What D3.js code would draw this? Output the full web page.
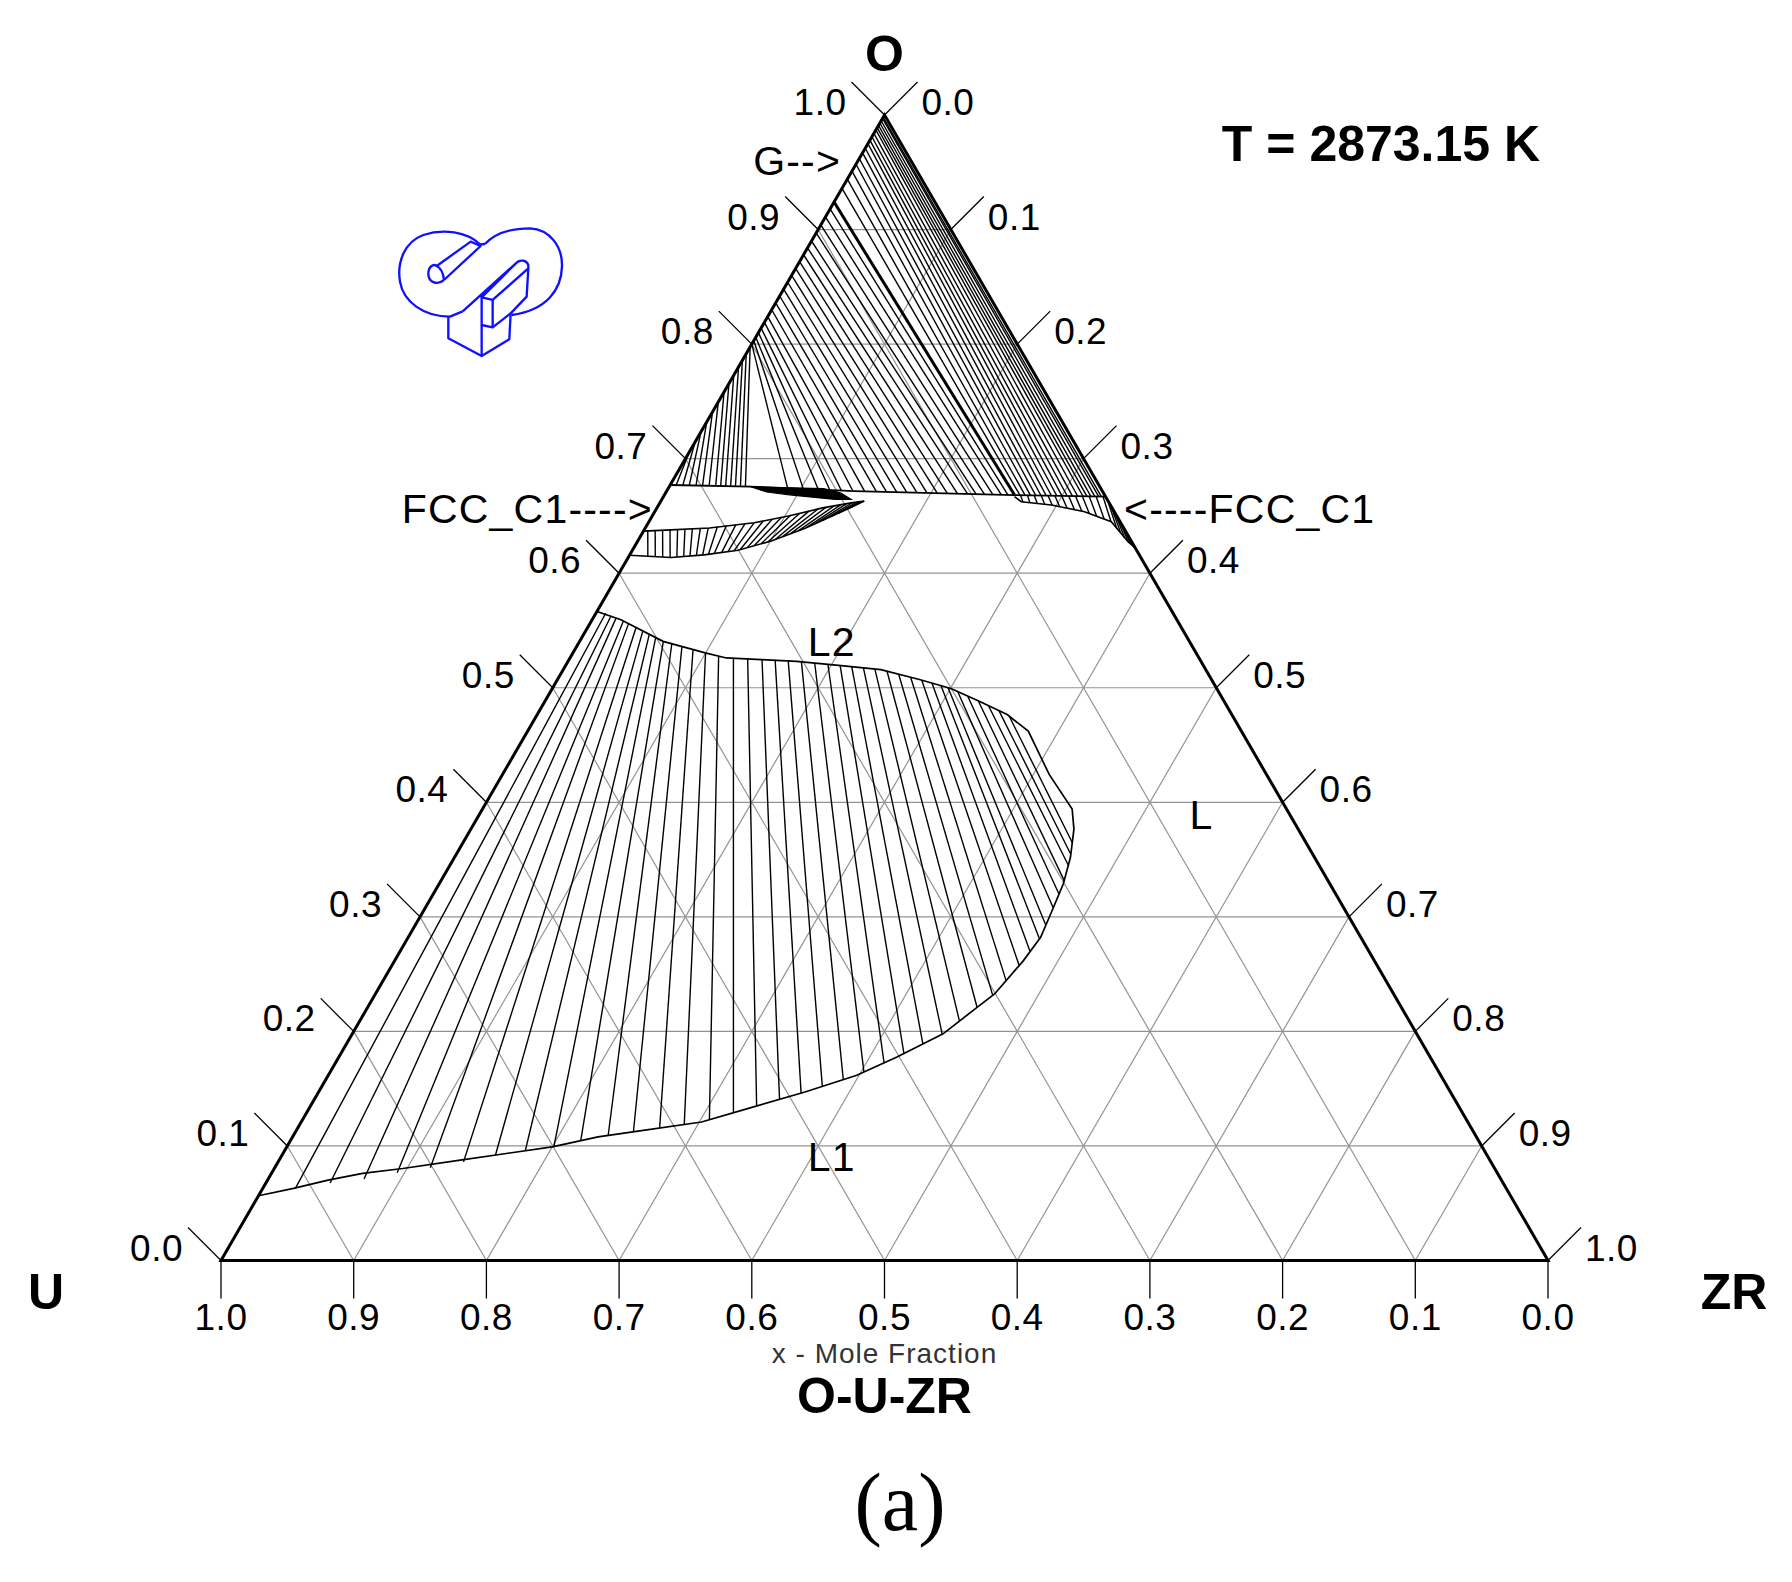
<!DOCTYPE html>
<html>
<head>
<meta charset="utf-8">
<script src="https://cdn.jsdelivr.net/npm/d3@7"></script>
<style>
  body { margin: 0; background: #fff; }
  svg text { font-family: "Liberation Sans", Arial, sans-serif; }
</style>
</head>
<body>
<div id="chart"></div>
<script>
// ---- data (mole fractions: [xZr, xO]) ----
var tickValues = [0, 0.1, 0.2, 0.3, 0.4, 0.5, 0.6, 0.7, 0.8, 0.9, 1.0];
var gridValues = [0.1, 0.2, 0.3, 0.4, 0.5, 0.6, 0.7, 0.8, 0.9];

// L2 / L1 miscibility gap outline (upper L2 branch, round the critical point, lower L1 branch)
var gapBoundary = [
  [0, 0.5666], [0.0217, 0.5594], [0.0629, 0.5405], [0.0997, 0.5304], [0.1178, 0.526],
  [0.1449, 0.5246], [0.1722, 0.5231], [0.2056, 0.5196], [0.2393, 0.5158], [0.2727, 0.5072],
  [0.3004, 0.4993], [0.3272, 0.4883], [0.3541, 0.4766], [0.3773, 0.4621], [0.4119, 0.4244],
  [0.4443, 0.3942], [0.4545, 0.3765], [0.4642, 0.3518], [0.4704, 0.3286], [0.4736, 0.3053],
  [0.4766, 0.2821], [0.4738, 0.2618], [0.4666, 0.2327], [0.4594, 0.2212], [0.4452, 0.1979],
  [0.4206, 0.1776], [0.3983, 0.1617], [0.3665, 0.1471], [0.3305, 0.1326], [0.3017, 0.1209],
  [0.2542, 0.1123], [0.2302, 0.1079], [0.2, 0.0992], [0.1683, 0.0934], [0.1365, 0.0876],
  [0.0968, 0.0803], [0.0687, 0.076], [0.0456, 0.0702], [0.0232, 0.0629], [0, 0.0565]
];

// L2 - L1 tie lines: [xZr(L2), xO(L2), xZr(L1), xO(L1)]
var gapTies = [
  [0.0074, 0.565, 0.0246, 0.0627], [0.0126, 0.5628, 0.0484, 0.0677], [0.0173, 0.5612, 0.0722, 0.0712],
  [0.0241, 0.5583, 0.0945, 0.0766], [0.0291, 0.5562, 0.1173, 0.0809], [0.0365, 0.5526, 0.1397, 0.0861],
  [0.0431, 0.5496, 0.1608, 0.0921], [0.0494, 0.5468, 0.1814, 0.0958], [0.0556, 0.544, 0.2011, 0.0995],
  [0.0631, 0.5405, 0.2188, 0.1045], [0.0705, 0.5384, 0.2372, 0.1091], [0.0794, 0.5359, 0.2546, 0.1124],
  [0.0891, 0.5332, 0.2727, 0.1157], [0.1, 0.5303, 0.2897, 0.1188], [0.1115, 0.527, 0.3066, 0.1229],
  [0.1233, 0.5257, 0.3216, 0.1291], [0.1344, 0.525, 0.3362, 0.1349], [0.1454, 0.5246, 0.3506, 0.1406],
  [0.1556, 0.524, 0.3641, 0.1461], [0.1657, 0.5235, 0.3772, 0.1519], [0.1761, 0.5226, 0.39, 0.1579],
  [0.1866, 0.5216, 0.4023, 0.1644], [0.1971, 0.5205, 0.4135, 0.1724], [0.2068, 0.5195, 0.4243, 0.1807],
  [0.2161, 0.5184, 0.4344, 0.1891], [0.2254, 0.5174, 0.4447, 0.1976], [0.2346, 0.5163, 0.452, 0.209],
  [0.2447, 0.5144, 0.4592, 0.2211], [0.2548, 0.5118, 0.4655, 0.2319], [0.2651, 0.5092, 0.4698, 0.2439],
  [0.2748, 0.5066, 0.4733, 0.2568], [0.2837, 0.5041, 0.4748, 0.2698], [0.2917, 0.5018, 0.4765, 0.2807],
  [0.2979, 0.5, 0.4753, 0.2926], [0.3068, 0.4967, 0.473, 0.3081], [0.3168, 0.4922, 0.4719, 0.3195],
  [0.3263, 0.4887, 0.4702, 0.331], [0.3362, 0.4843, 0.4666, 0.3444], [0.346, 0.4803, 0.4628, 0.3549],
  [0.3563, 0.4753, 0.4596, 0.3643]
];

// FCC_C1 boundary near xO = 2/3
var fccLine = [[0, 0.677], [0.0614, 0.6755], [0.1414, 0.6717], [0.2639, 0.6682], [0.3332, 0.6668]];

// G + FCC tie lines, left part (gas side on the O-U edge)
var gasLeftTies = [
  [0, 0.800, 0.090, 0.6741], [0, 0.803, 0.102, 0.6736], [0, 0.806, 0.1136, 0.6730],
  [0, 0.810, 0.1225, 0.6726], [0, 0.814, 0.1314, 0.6722], [0, 0.819, 0.1403, 0.6718],
  [0, 0.824, 0.1493, 0.6715], [0, 0.830, 0.1583, 0.6712], [0, 0.836, 0.166, 0.6710],
  [0, 0.842, 0.1738, 0.6708], [0, 0.848, 0.1815, 0.6706], [0, 0.854, 0.1893, 0.6703],
  [0, 0.860, 0.197, 0.6701], [0, 0.866, 0.2048, 0.6699], [0, 0.872, 0.2125, 0.6697],
  [0, 0.878, 0.2203, 0.6694], [0, 0.884, 0.228, 0.6692], [0, 0.890, 0.2345, 0.6690],
  [0, 0.897, 0.2409, 0.6689], [0, 0.904, 0.2473, 0.6687], [0, 0.911, 0.2537, 0.6685],
  [0, 0.918, 0.2588, 0.6683]
];
var gasThickTie = [0, 0.924, 0.2639, 0.6682];

// G + FCC tie lines, right part
var gasRightTies = [
  [0, 0.936, 0.268, 0.6681], [0, 0.944, 0.272, 0.6680], [0, 0.951, 0.276, 0.6680],
  [0, 0.957, 0.280, 0.6679], [0, 0.962, 0.284, 0.6678], [0, 0.967, 0.288, 0.6677],
  [0, 0.971, 0.292, 0.6676], [0, 0.975, 0.296, 0.6676], [0, 0.978, 0.300, 0.6675],
  [0, 0.981, 0.304, 0.6674], [0, 0.984, 0.308, 0.6673], [0, 0.987, 0.312, 0.6672],
  [0, 0.989, 0.316, 0.6672], [0, 0.991, 0.319, 0.6671], [0, 0.993, 0.322, 0.6670],
  [0, 0.995, 0.325, 0.6670], [0, 0.997, 0.328, 0.6669], [0, 0.998, 0.330, 0.6669]
];

// fan of tie lines below xO = 0.8 on the O-U edge
var fanTies = [
  [0, 0.706, 0.0046, 0.6769], [0, 0.7147, 0.0096, 0.6768], [0, 0.7234, 0.0146, 0.6766],
  [0, 0.7321, 0.0197, 0.6765], [0, 0.7408, 0.0247, 0.6764], [0, 0.7495, 0.0297, 0.6763],
  [0, 0.7582, 0.0347, 0.6762], [0, 0.7655, 0.0385, 0.6761], [0, 0.7728, 0.0423, 0.6760],
  [0, 0.780, 0.0461, 0.6759], [0, 0.7858, 0.0498, 0.6758], [0, 0.7916, 0.0536, 0.6757],
  [0, 0.7975, 0.0574, 0.6756]
];

// FCC + L2 crescent below the FCC line
var crescentUpper = [[0, 0.6367], [0.0202, 0.6378], [0.0483, 0.6395], [0.0797, 0.644], [0.1026, 0.65], [0.1249, 0.657], [0.1443, 0.6614], [0.1533, 0.6629]];
var crescentLower = [[0, 0.6157], [0.0323, 0.6137], [0.0561, 0.616], [0.0796, 0.6201], [0.1006, 0.6281], [0.1202, 0.6391], [0.1387, 0.652], [0.1533, 0.6629]];
var crescentTies = [
  [0.003, 0.6372, 0.0145, 0.6143], [0.0085, 0.6374, 0.0202, 0.6141], [0.014, 0.6376, 0.0259, 0.6139],
  [0.0195, 0.6378, 0.0316, 0.6137], [0.025, 0.6381, 0.0365, 0.6141], [0.0304, 0.6384, 0.0414, 0.6146],
  [0.0358, 0.6388, 0.0459, 0.615], [0.0416, 0.6392, 0.0505, 0.6154], [0.0474, 0.6396, 0.055, 0.6159],
  [0.0538, 0.6405, 0.0591, 0.6165], [0.0601, 0.6415, 0.0631, 0.6172], [0.0668, 0.6422, 0.0683, 0.6177],
  [0.0732, 0.6431, 0.0726, 0.6186], [0.0797, 0.644, 0.0768, 0.6195], [0.0858, 0.6456, 0.081, 0.6207],
  [0.0919, 0.6472, 0.0854, 0.6223], [0.098, 0.6488, 0.0897, 0.624], [0.104, 0.6505, 0.0941, 0.6256],
  [0.11, 0.6523, 0.0984, 0.6273], [0.116, 0.6542, 0.103, 0.6294], [0.1219, 0.6561, 0.1073, 0.6319],
  [0.1272, 0.6575, 0.112, 0.6345], [0.1327, 0.6588, 0.1167, 0.6372], [0.1373, 0.6598, 0.1214, 0.64],
  [0.1412, 0.6607, 0.1259, 0.643], [0.1451, 0.6615, 0.1303, 0.6462], [0.1483, 0.662, 0.1348, 0.6493],
  [0.1506, 0.6625, 0.1392, 0.6525], [0.1522, 0.6627, 0.1443, 0.6561]
];

// small dense two-phase lens on the FCC line
var fccLens = [[0.0614, 0.6755], [0.0999, 0.6744], [0.1173, 0.6739], [0.1322, 0.6699], [0.1426, 0.6644],
               [0.1307, 0.6644], [0.1125, 0.6664], [0.0942, 0.6684], [0.0757, 0.6709]];

// Zr-rich FCC two-phase band near the O-ZR edge
var rightBandLower = [[0.2645, 0.6669], [0.2718, 0.6624], [0.2959, 0.6596], [0.3239, 0.6537], [0.3484, 0.645], [0.3697, 0.6276], [0.3782, 0.6218]];
var rightBandTies = [
  [0.2685, 0.6681, 0.2732, 0.6622], [0.2738, 0.668, 0.2787, 0.6616], [0.2789, 0.6679, 0.2846, 0.661],
  [0.2842, 0.6678, 0.2906, 0.6602], [0.2894, 0.6677, 0.2966, 0.6595], [0.2946, 0.6676, 0.3028, 0.6582],
  [0.2998, 0.6675, 0.3091, 0.6569], [0.3051, 0.6674, 0.3153, 0.6556], [0.3103, 0.6673, 0.3216, 0.6542],
  [0.3155, 0.6672, 0.3282, 0.6522], [0.3207, 0.6671, 0.335, 0.6498], [0.326, 0.667, 0.3418, 0.6474],
  [0.3312, 0.6669, 0.3481, 0.6451], [0.3361, 0.6639, 0.3553, 0.6393], [0.341, 0.659, 0.3604, 0.6352],
  [0.3465, 0.6535, 0.3655, 0.631], [0.352, 0.648, 0.3703, 0.6272], [0.3575, 0.6425, 0.3731, 0.6253],
  [0.3639, 0.6361, 0.3757, 0.6235]
];

// phase labels: [text, xZr, xO, anchor]
var phaseLabels = [
  ["G-->", -0.013, 0.9606, "end"],
  ["FCC_C1---->", -0.003, 0.657, "end"],
  ["<----FCC_C1", 0.352, 0.657, "start"],
  ["L2", 0.19, 0.5405, "middle"],
  ["L", 0.5442, 0.3892, "middle"],
  ["L1", 0.415, 0.0906, "middle"]
];

// ---- drawing ----
var width = 1792, height = 1582;
var svg = d3.select("#chart").append("svg")
    .attr("width", width)
    .attr("height", height)
    .style("background", "#fff");

// horizontal = xZr + xO/2, vertical = xO
var hx = d3.scaleLinear().domain([0, 1]).range([221, 1548]);
var vy = d3.scaleLinear().domain([0, 1]).range([1260.5, 115]);
function P(zr, o) { return [hx(zr + o / 2), vy(o)]; }
var tline = d3.line()
    .x(function(d) { return P(d[0], d[1])[0]; })
    .y(function(d) { return P(d[0], d[1])[1]; });

function seg(g, a, b, w, col) {
    var p = P(a[0], a[1]), q = P(b[0], b[1]);
    g.append("line")
        .attr("x1", p[0]).attr("y1", p[1])
        .attr("x2", q[0]).attr("y2", q[1])
        .attr("stroke", col || "#000")
        .attr("stroke-width", w);
}
function drawTies(data, w) {
    var g = svg.append("g");
    data.forEach(function(t) { seg(g, [t[0], t[1]], [t[2], t[3]], w); });
}

// gray grid
var grid = svg.append("g");
gridValues.forEach(function(v) {
    seg(grid, [0, v], [1 - v, v], 1.2, "#939393");      // constant O
    seg(grid, [v, 0], [v, 1 - v], 1.2, "#939393");      // constant ZR
    seg(grid, [1 - v, 0], [0, 1 - v], 1.2, "#939393");  // constant U
});

// ticks and tick labels
var ticks = svg.append("g").attr("font-size", 37).attr("letter-spacing", 0.5);
tickValues.forEach(function(v) {
    var lbl = d3.format(".1f")(v);
    // left edge: x(O)
    var p = P(0, v);
    ticks.append("line").attr("x1", p[0]).attr("y1", p[1]).attr("x2", p[0] - 33).attr("y2", p[1] - 33)
        .attr("stroke", "#000").attr("stroke-width", 1.3);
    ticks.append("text").attr("x", p[0] - 38).attr("y", p[1]).attr("text-anchor", "end").text(lbl);
    // right edge: x(ZR)
    var r = P(v, 1 - v);
    ticks.append("line").attr("x1", r[0]).attr("y1", r[1]).attr("x2", r[0] + 33).attr("y2", r[1] - 33)
        .attr("stroke", "#000").attr("stroke-width", 1.3);
    ticks.append("text").attr("x", r[0] + 37).attr("y", r[1]).attr("text-anchor", "start").text(lbl);
    // bottom edge: x(U)
    var b = P(1 - v, 0);
    ticks.append("line").attr("x1", b[0]).attr("y1", b[1]).attr("x2", b[0]).attr("y2", b[1] + 38)
        .attr("stroke", "#000").attr("stroke-width", 1.3);
    ticks.append("text").attr("x", b[0]).attr("y", b[1] + 69).attr("text-anchor", "middle").text(lbl);
});

// tie lines
drawTies(gapTies, 1.4);
drawTies(gasLeftTies, 1.4);
drawTies(gasRightTies, 1.4);
drawTies(fanTies, 1.4);
drawTies(crescentTies, 1.4);
drawTies(rightBandTies, 1.4);
drawTies([gasThickTie], 3);

// phase boundaries
svg.append("path").attr("d", tline(gapBoundary)).attr("fill", "none").attr("stroke", "#000").attr("stroke-width", 1.7);
svg.append("path").attr("d", tline(fccLine)).attr("fill", "none").attr("stroke", "#000").attr("stroke-width", 1.8);
svg.append("path").attr("d", tline(crescentUpper)).attr("fill", "none").attr("stroke", "#000").attr("stroke-width", 1.6);
svg.append("path").attr("d", tline(crescentLower)).attr("fill", "none").attr("stroke", "#000").attr("stroke-width", 1.6);
svg.append("path").attr("d", tline(rightBandLower)).attr("fill", "none").attr("stroke", "#000").attr("stroke-width", 1.6);
svg.append("path").attr("d", tline(fccLens) + "Z").attr("fill", "#000").attr("stroke", "#000").attr("stroke-width", 1.2);

// triangle
var corners = [[0, 0], [1, 0], [0, 1]];
svg.append("path").attr("d", tline(corners) + "Z")
    .attr("fill", "none").attr("stroke", "#000").attr("stroke-width", 3).attr("stroke-linejoin", "miter");

// phase labels
phaseLabels.forEach(function(l) {
    var p = P(l[1], l[2]);
    svg.append("text").attr("x", p[0]).attr("y", p[1]).attr("dy", "0.36em")
        .attr("text-anchor", l[3]).attr("font-size", 41).attr("letter-spacing", 1.2).text(l[0]);
});

// component names and titles
var apex = P(0, 1), cU = P(0, 0), cZ = P(1, 0);
svg.append("text").attr("x", apex[0]).attr("y", 71).attr("text-anchor", "middle")
    .attr("font-size", 50).attr("font-weight", "bold").text("O");
svg.append("text").attr("x", 46).attr("y", cU[1] + 48).attr("text-anchor", "middle")
    .attr("font-size", 50).attr("font-weight", "bold").text("U");
svg.append("text").attr("x", 1734).attr("y", cZ[1] + 48).attr("text-anchor", "middle")
    .attr("font-size", 50).attr("font-weight", "bold").text("ZR");
svg.append("text").attr("x", 1381).attr("y", 161).attr("text-anchor", "middle")
    .attr("font-size", 50).attr("font-weight", "bold").text("T = 2873.15 K");
svg.append("text").attr("x", apex[0]).attr("y", 1363).attr("text-anchor", "middle")
    .attr("font-size", 28).attr("letter-spacing", 1).attr("fill", "#333").text("x - Mole Fraction");
svg.append("text").attr("x", apex[0]).attr("y", 1413).attr("text-anchor", "middle")
    .attr("font-size", 50).attr("font-weight", "bold").text("O-U-ZR");
svg.append("text").attr("x", 900).attr("y", 1530).attr("text-anchor", "middle")
    .attr("font-size", 82).style("font-family", "'Liberation Serif', 'Times New Roman', serif").text("(a)");

// blue logo (drawn freehand in a local 600x540 box)
var logo = svg.append("g")
    .attr("transform", "translate(380,200) scale(0.3333)")
    .attr("fill", "none").attr("stroke", "#1010ff").attr("stroke-width", 7).attr("stroke-linejoin", "round");
logo.append("path").attr("d", "M300,133 C260,95 190,85 130,105 C75,125 50,185 60,245 C70,305 130,350 210,350 L248,334");
logo.append("path").attr("d", "M315,132 C345,100 390,85 450,85 C510,88 548,140 546,200 C544,270 500,330 395,345");
logo.append("path").attr("d", "M300,133 L315,132");
logo.append("path").attr("d", "M170,198 L272,125 L302,138 L192,240");
logo.append("path").attr("d", "M192,240 C170,258 145,245 145,222 C145,200 160,190 170,198 C185,205 190,222 192,240");
logo.append("path").attr("d", "M248,334 L410,188 C420,178 440,180 445,195 L445,205 L338,300 L305,292 L410,188");
logo.append("path").attr("d", "M445,205 L440,290 L392,340 L388,418 L305,468 L205,415 L205,350");
logo.append("path").attr("d", "M305,292 L305,375 L338,382 L338,300");
logo.append("path").attr("d", "M305,375 L305,468");
logo.append("path").attr("d", "M338,382 L392,340");
</script>
</body>
</html>
